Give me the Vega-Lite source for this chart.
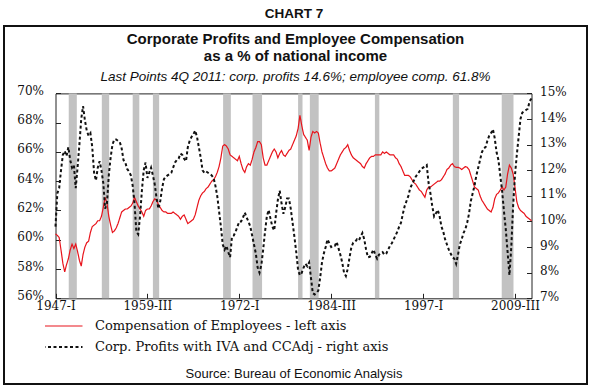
{
  "$schema": "https://vega.github.io/schema/vega-lite/v6.json",
  "width": 583,
  "height": 358,
  "autosize": {"type": "none"},
  "padding": {"left": 4, "top": 26, "right": 5, "bottom": 3},
  "background": "white",
  "config": {
    "view": {"stroke": "#111111", "strokeWidth": 2},
    "axis": {"domainColor": "#222222", "domainWidth": 1, "tickColor": "#222222", "grid": false, "labelFont": "DejaVu Serif", "labelFontSize": 12, "labelColor": "#111111", "titleFont": "Liberation Sans", "titleColor": "#111111"}
  },
  "title": {
    "text": ["Corporate Profits and Employee Compensation", "as a % of national income"],
    "subtitle": "Last Points 4Q 2011: corp. profits 14.6%; employee comp. 61.8%",
    "font": "Liberation Sans", "fontSize": 15, "fontWeight": "bold", "lineHeight": 16.5, "color": "#111111",
    "subtitleFont": "Liberation Sans", "subtitleFontSize": 13.5, "subtitleFontStyle": "italic", "subtitleColor": "#111111", "subtitlePadding": 6.5,
    "anchor": "middle", "frame": "group", "offset": -77.5
  },
  "datasets": {
    "recessions": [
      {"start": 1948.8, "end": 1949.9},
      {"start": 1953.3, "end": 1954.3},
      {"start": 1957.5, "end": 1958.4},
      {"start": 1960.25, "end": 1961.1},
      {"start": 1969.8, "end": 1970.85},
      {"start": 1973.8, "end": 1975.1},
      {"start": 1980.0, "end": 1980.6},
      {"start": 1981.6, "end": 1982.8},
      {"start": 1990.45, "end": 1991.05},
      {"start": 2001.05, "end": 2001.9},
      {"start": 2007.7, "end": 2009.3}
    ],
    "series": [
      {"t": 1947, "c": 60.4, "p": 9.8}, {"t": 1947.25, "c": 60.3, "p": 11.1}, {"t": 1947.5, "c": 60.15, "p": 11.3}, {"t": 1947.75, "c": 59.3, "p": 12.0},
      {"t": 1948, "c": 58.4, "p": 12.6}, {"t": 1948.25, "c": 57.8, "p": 12.75}, {"t": 1948.5, "c": 58.3, "p": 12.55}, {"t": 1948.75, "c": 58.7, "p": 12.9},
      {"t": 1949, "c": 59.3, "p": 12.4}, {"t": 1949.25, "c": 59.7, "p": 12.1}, {"t": 1949.5, "c": 59.4, "p": 12.2}, {"t": 1949.75, "c": 59.7, "p": 11.3},
      {"t": 1950, "c": 59.2, "p": 12.1}, {"t": 1950.25, "c": 58.6, "p": 13.0}, {"t": 1950.5, "c": 58.2, "p": 14.0}, {"t": 1950.75, "c": 59.0, "p": 14.5},
      {"t": 1951, "c": 59.5, "p": 13.95}, {"t": 1951.25, "c": 59.8, "p": 13.55}, {"t": 1951.5, "c": 59.9, "p": 13.35}, {"t": 1951.75, "c": 60.5, "p": 13.45},
      {"t": 1952, "c": 60.9, "p": 12.9}, {"t": 1952.25, "c": 61.0, "p": 11.9}, {"t": 1952.5, "c": 61.1, "p": 11.6}, {"t": 1952.75, "c": 61.3, "p": 12.1},
      {"t": 1953, "c": 61.3, "p": 12.35}, {"t": 1953.25, "c": 61.6, "p": 12.0}, {"t": 1953.5, "c": 62.2, "p": 11.5}, {"t": 1953.75, "c": 62.9, "p": 10.5},
      {"t": 1954, "c": 62.5, "p": 10.7}, {"t": 1954.25, "c": 61.6, "p": 11.8}, {"t": 1954.5, "c": 61.0, "p": 12.5}, {"t": 1954.75, "c": 60.5, "p": 13.0},
      {"t": 1955, "c": 60.6, "p": 13.2}, {"t": 1955.25, "c": 60.8, "p": 13.2}, {"t": 1955.5, "c": 61.1, "p": 13.15}, {"t": 1955.75, "c": 61.5, "p": 13.1},
      {"t": 1956, "c": 61.9, "p": 12.85}, {"t": 1956.25, "c": 62.0, "p": 12.4}, {"t": 1956.5, "c": 62.1, "p": 12.3}, {"t": 1956.75, "c": 62.1, "p": 12.05},
      {"t": 1957, "c": 62.2, "p": 11.95}, {"t": 1957.25, "c": 62.3, "p": 11.8}, {"t": 1957.5, "c": 62.5, "p": 11.4}, {"t": 1957.75, "c": 62.9, "p": 10.7},
      {"t": 1958, "c": 62.6, "p": 9.6}, {"t": 1958.25, "c": 62.3, "p": 9.5}, {"t": 1958.5, "c": 62.1, "p": 10.2}, {"t": 1958.75, "c": 61.9, "p": 11.2},
      {"t": 1959, "c": 61.6, "p": 12.0}, {"t": 1959.25, "c": 62.0, "p": 12.3}, {"t": 1959.5, "c": 62.1, "p": 11.7}, {"t": 1959.75, "c": 62.1, "p": 11.9},
      {"t": 1960, "c": 62.3, "p": 12.1}, {"t": 1960.25, "c": 62.6, "p": 11.8}, {"t": 1960.5, "c": 62.8, "p": 11.45}, {"t": 1960.75, "c": 62.7, "p": 10.9},
      {"t": 1961, "c": 62.4, "p": 10.5}, {"t": 1961.25, "c": 62.2, "p": 10.8}, {"t": 1961.5, "c": 62.0, "p": 11.3}, {"t": 1961.75, "c": 61.9, "p": 11.65},
      {"t": 1962, "c": 61.9, "p": 11.75}, {"t": 1962.25, "c": 61.8, "p": 11.8}, {"t": 1962.5, "c": 61.8, "p": 11.85}, {"t": 1962.75, "c": 61.8, "p": 11.9},
      {"t": 1963, "c": 61.9, "p": 12.1}, {"t": 1963.25, "c": 61.8, "p": 12.3}, {"t": 1963.5, "c": 61.7, "p": 12.4}, {"t": 1963.75, "c": 61.6, "p": 12.45},
      {"t": 1964, "c": 61.4, "p": 12.65}, {"t": 1964.25, "c": 61.6, "p": 12.6}, {"t": 1964.5, "c": 61.7, "p": 12.45}, {"t": 1964.75, "c": 61.4, "p": 12.35},
      {"t": 1965, "c": 61.1, "p": 12.9}, {"t": 1965.25, "c": 61.2, "p": 13.15}, {"t": 1965.5, "c": 61.3, "p": 13.3}, {"t": 1965.75, "c": 61.4, "p": 13.4},
      {"t": 1966, "c": 61.7, "p": 13.55}, {"t": 1966.25, "c": 62.2, "p": 13.3}, {"t": 1966.5, "c": 62.7, "p": 12.9}, {"t": 1966.75, "c": 63.0, "p": 12.5},
      {"t": 1967, "c": 63.2, "p": 12.0}, {"t": 1967.25, "c": 63.3, "p": 11.9}, {"t": 1967.5, "c": 63.5, "p": 11.95}, {"t": 1967.75, "c": 63.6, "p": 11.9},
      {"t": 1968, "c": 63.8, "p": 11.85}, {"t": 1968.25, "c": 64.0, "p": 11.8}, {"t": 1968.5, "c": 64.1, "p": 11.7}, {"t": 1968.75, "c": 64.3, "p": 11.4},
      {"t": 1969, "c": 64.6, "p": 11.0}, {"t": 1969.25, "c": 65.0, "p": 10.4}, {"t": 1969.5, "c": 65.6, "p": 9.8}, {"t": 1969.75, "c": 66.4, "p": 9.1},
      {"t": 1970, "c": 66.5, "p": 8.9}, {"t": 1970.25, "c": 66.4, "p": 9.05}, {"t": 1970.5, "c": 66.2, "p": 8.8}, {"t": 1970.75, "c": 65.8, "p": 8.6},
      {"t": 1971, "c": 65.7, "p": 9.4}, {"t": 1971.25, "c": 65.6, "p": 9.45}, {"t": 1971.5, "c": 65.5, "p": 9.6}, {"t": 1971.75, "c": 65.4, "p": 9.8},
      {"t": 1972, "c": 65.7, "p": 10.0}, {"t": 1972.25, "c": 65.2, "p": 10.0}, {"t": 1972.5, "c": 64.8, "p": 10.15}, {"t": 1972.75, "c": 64.6, "p": 10.35},
      {"t": 1973, "c": 65.0, "p": 10.15}, {"t": 1973.25, "c": 65.2, "p": 10.0}, {"t": 1973.5, "c": 65.1, "p": 9.8}, {"t": 1973.75, "c": 65.5, "p": 9.45},
      {"t": 1974, "c": 66.0, "p": 9.1}, {"t": 1974.25, "c": 66.3, "p": 8.75}, {"t": 1974.5, "c": 66.7, "p": 8.2}, {"t": 1974.75, "c": 66.7, "p": 8.0},
      {"t": 1975, "c": 66.5, "p": 8.3}, {"t": 1975.25, "c": 65.6, "p": 8.9}, {"t": 1975.5, "c": 65.1, "p": 9.6}, {"t": 1975.75, "c": 65.1, "p": 10.2},
      {"t": 1976, "c": 65.4, "p": 10.45}, {"t": 1976.25, "c": 65.7, "p": 10.1}, {"t": 1976.5, "c": 66.0, "p": 9.8}, {"t": 1976.75, "c": 66.2, "p": 9.65},
      {"t": 1977, "c": 66.0, "p": 10.3}, {"t": 1977.25, "c": 65.6, "p": 10.85}, {"t": 1977.5, "c": 65.9, "p": 11.2}, {"t": 1977.75, "c": 66.1, "p": 10.7},
      {"t": 1978, "c": 65.8, "p": 10.3}, {"t": 1978.25, "c": 65.7, "p": 10.55}, {"t": 1978.5, "c": 65.9, "p": 10.9}, {"t": 1978.75, "c": 66.1, "p": 10.9},
      {"t": 1979, "c": 66.2, "p": 10.5}, {"t": 1979.25, "c": 66.5, "p": 9.95}, {"t": 1979.5, "c": 66.8, "p": 9.4}, {"t": 1979.75, "c": 67.1, "p": 8.8},
      {"t": 1980, "c": 67.6, "p": 8.1}, {"t": 1980.25, "c": 68.5, "p": 7.9}, {"t": 1980.5, "c": 67.8, "p": 8.0}, {"t": 1980.75, "c": 67.2, "p": 8.2},
      {"t": 1981, "c": 67.0, "p": 8.35}, {"t": 1981.25, "c": 66.8, "p": 8.25}, {"t": 1981.5, "c": 66.1, "p": 8.4}, {"t": 1981.75, "c": 67.0, "p": 7.8},
      {"t": 1982, "c": 67.4, "p": 7.2}, {"t": 1982.25, "c": 67.3, "p": 7.15}, {"t": 1982.5, "c": 67.4, "p": 7.2}, {"t": 1982.75, "c": 67.3, "p": 7.3},
      {"t": 1983, "c": 66.6, "p": 7.8}, {"t": 1983.25, "c": 66.0, "p": 8.4}, {"t": 1983.5, "c": 65.6, "p": 8.75}, {"t": 1983.75, "c": 65.2, "p": 9.0},
      {"t": 1984, "c": 64.9, "p": 9.3}, {"t": 1984.25, "c": 64.7, "p": 9.15}, {"t": 1984.5, "c": 64.7, "p": 9.0}, {"t": 1984.75, "c": 64.8, "p": 9.05},
      {"t": 1985, "c": 64.9, "p": 9.05}, {"t": 1985.25, "c": 65.2, "p": 9.2}, {"t": 1985.5, "c": 65.5, "p": 8.95}, {"t": 1985.75, "c": 65.8, "p": 8.7},
      {"t": 1986, "c": 66.0, "p": 8.4}, {"t": 1986.25, "c": 66.2, "p": 8.0}, {"t": 1986.5, "c": 66.3, "p": 7.87}, {"t": 1986.75, "c": 66.5, "p": 8.15},
      {"t": 1987, "c": 66.1, "p": 8.6}, {"t": 1987.25, "c": 65.8, "p": 9.0}, {"t": 1987.5, "c": 65.6, "p": 9.17}, {"t": 1987.75, "c": 65.5, "p": 9.2},
      {"t": 1988, "c": 65.4, "p": 9.3}, {"t": 1988.25, "c": 65.3, "p": 9.25}, {"t": 1988.5, "c": 65.2, "p": 9.4}, {"t": 1988.75, "c": 65.0, "p": 9.55},
      {"t": 1989, "c": 64.9, "p": 9.3}, {"t": 1989.25, "c": 65.2, "p": 8.9}, {"t": 1989.5, "c": 65.4, "p": 8.6}, {"t": 1989.75, "c": 65.6, "p": 8.62},
      {"t": 1990, "c": 65.7, "p": 8.75}, {"t": 1990.25, "c": 65.7, "p": 8.9}, {"t": 1990.5, "c": 65.8, "p": 8.7}, {"t": 1990.75, "c": 65.8, "p": 8.55},
      {"t": 1991, "c": 65.8, "p": 8.7}, {"t": 1991.25, "c": 65.8, "p": 8.75}, {"t": 1991.5, "c": 66.0, "p": 8.8}, {"t": 1991.75, "c": 65.9, "p": 8.7},
      {"t": 1992, "c": 66.0, "p": 8.75}, {"t": 1992.25, "c": 65.9, "p": 8.9}, {"t": 1992.5, "c": 65.8, "p": 9.05}, {"t": 1992.75, "c": 65.8, "p": 9.15},
      {"t": 1993, "c": 65.8, "p": 9.3}, {"t": 1993.25, "c": 65.6, "p": 9.45}, {"t": 1993.5, "c": 65.5, "p": 9.6}, {"t": 1993.75, "c": 65.2, "p": 9.8},
      {"t": 1994, "c": 65.0, "p": 9.95}, {"t": 1994.25, "c": 64.7, "p": 10.3}, {"t": 1994.5, "c": 64.4, "p": 10.6}, {"t": 1994.75, "c": 64.4, "p": 10.8},
      {"t": 1995, "c": 64.4, "p": 11.0}, {"t": 1995.25, "c": 64.3, "p": 11.3}, {"t": 1995.5, "c": 64.1, "p": 11.45}, {"t": 1995.75, "c": 63.9, "p": 11.6},
      {"t": 1996, "c": 63.8, "p": 11.75}, {"t": 1996.25, "c": 63.6, "p": 11.85}, {"t": 1996.5, "c": 63.4, "p": 11.95}, {"t": 1996.75, "c": 63.3, "p": 12.05},
      {"t": 1997, "c": 63.1, "p": 12.1}, {"t": 1997.25, "c": 62.9, "p": 12.15}, {"t": 1997.5, "c": 63.4, "p": 12.2}, {"t": 1997.75, "c": 63.6, "p": 11.5},
      {"t": 1998, "c": 63.6, "p": 11.1}, {"t": 1998.25, "c": 63.7, "p": 10.6}, {"t": 1998.5, "c": 63.8, "p": 10.2}, {"t": 1998.75, "c": 63.9, "p": 10.32},
      {"t": 1999, "c": 64.0, "p": 10.45}, {"t": 1999.25, "c": 64.0, "p": 10.2}, {"t": 1999.5, "c": 64.1, "p": 9.8}, {"t": 1999.75, "c": 64.3, "p": 9.6},
      {"t": 2000, "c": 64.5, "p": 9.3}, {"t": 2000.25, "c": 64.8, "p": 9.1}, {"t": 2000.5, "c": 64.9, "p": 8.9}, {"t": 2000.75, "c": 65.1, "p": 8.75},
      {"t": 2001, "c": 65.2, "p": 8.6}, {"t": 2001.25, "c": 65.0, "p": 8.55}, {"t": 2001.5, "c": 64.95, "p": 8.35}, {"t": 2001.75, "c": 64.95, "p": 8.7},
      {"t": 2002, "c": 64.9, "p": 9.1}, {"t": 2002.25, "c": 64.8, "p": 9.3}, {"t": 2002.5, "c": 64.9, "p": 9.55}, {"t": 2002.75, "c": 65.0, "p": 9.7},
      {"t": 2003, "c": 64.95, "p": 9.95}, {"t": 2003.25, "c": 64.8, "p": 10.3}, {"t": 2003.5, "c": 64.4, "p": 10.8}, {"t": 2003.75, "c": 64.0, "p": 11.1},
      {"t": 2004, "c": 63.6, "p": 11.4}, {"t": 2004.25, "c": 63.5, "p": 11.8}, {"t": 2004.5, "c": 63.4, "p": 12.1}, {"t": 2004.75, "c": 63.0, "p": 12.4},
      {"t": 2005, "c": 62.7, "p": 12.7}, {"t": 2005.25, "c": 62.5, "p": 12.85}, {"t": 2005.5, "c": 62.3, "p": 12.9}, {"t": 2005.75, "c": 62.1, "p": 13.15},
      {"t": 2006, "c": 62.0, "p": 13.35}, {"t": 2006.25, "c": 61.9, "p": 13.45}, {"t": 2006.5, "c": 62.2, "p": 13.6}, {"t": 2006.75, "c": 62.8, "p": 13.25},
      {"t": 2007, "c": 63.1, "p": 12.7}, {"t": 2007.25, "c": 63.2, "p": 12.4}, {"t": 2007.5, "c": 63.4, "p": 11.8}, {"t": 2007.75, "c": 63.6, "p": 11.2},
      {"t": 2008, "c": 63.4, "p": 10.4}, {"t": 2008.25, "c": 63.6, "p": 9.7}, {"t": 2008.5, "c": 64.5, "p": 8.8}, {"t": 2008.75, "c": 65.1, "p": 7.9},
      {"t": 2009, "c": 64.9, "p": 9.0}, {"t": 2009.25, "c": 64.5, "p": 10.6}, {"t": 2009.5, "c": 63.6, "p": 11.8}, {"t": 2009.75, "c": 62.6, "p": 12.6},
      {"t": 2010, "c": 62.2, "p": 13.3}, {"t": 2010.25, "c": 62.0, "p": 14.0}, {"t": 2010.5, "c": 61.9, "p": 14.25}, {"t": 2010.75, "c": 61.8, "p": 14.3},
      {"t": 2011, "c": 61.6, "p": 14.35}, {"t": 2011.25, "c": 61.5, "p": 14.4}, {"t": 2011.5, "c": 61.4, "p": 14.7}, {"t": 2011.75, "c": 61.3, "p": 14.8}
    ]
  },
  "layer": [
    {
      "data": {"name": "recessions"},
      "mark": {"type": "rect", "color": "#c2c2c2"},
      "encoding": {
        "x": {"field": "start", "type": "quantitative", "scale": {"domain": [1947, 2011.75], "range": [51.5, 527.5], "zero": false, "nice": false},
          "axis": {"orient": "top", "title": "CHART 7", "labels": false, "ticks": false, "domain": true, "offset": -67.4, "titlePadding": 73, "titleFontSize": 13.5, "titleFontWeight": "bold"}},
        "x2": {"field": "end"},
        "y": {"datum": 56, "type": "quantitative", "scale": {"domain": [56, 70], "range": [272.3, 67.4], "zero": false, "nice": false}, "axis": null},
        "y2": {"datum": 70}
      }
    },
    {
      "data": {"name": "series"},
      "mark": {"type": "line", "strokeWidth": 1.2},
      "encoding": {
        "x": {"field": "t", "type": "quantitative", "scale": {"domain": [1947, 2011.75], "range": [51.5, 527.5], "zero": false, "nice": false},
          "axis": {"orient": "bottom", "values": [1947, 1959.5, 1972, 1984.5, 1997, 2009.5],
            "labelExpr": "floor(datum.value) + '-' + ['I','II','III','IV'][round((datum.value - floor(datum.value)) * 4)]",
            "tickSize": -5, "labelPadding": 7, "offset": -85.7, "labelFlush": false, "labelOverlap": false,
            "title": "Source: Bureau of Economic Analysis", "titleFontSize": 13, "titleFontWeight": "normal", "titlePadding": 56}},
        "y": {"field": "c", "type": "quantitative", "scale": {"domain": [56, 70], "range": [272.3, 67.4], "zero": false, "nice": false},
          "axis": {"orient": "left", "values": [56, 58, 60, 62, 64, 66, 68, 70], "labelExpr": "datum.value + '%'", "tickSize": -5, "labelPadding": 17, "labelOffset": -3, "offset": -51.5, "title": null}},
        "color": {"datum": "Compensation of Employees - left axis", "type": "nominal",
          "scale": {"domain": ["Compensation of Employees - left axis", "Corp. Profits with IVA and CCAdj - right axis"], "range": ["#e8141c", "#111111"]},
          "legend": {"orient": "none", "legendX": 41, "legendY": 293, "title": null, "symbolType": "stroke", "symbolSize": 3844, "clipHeight": 14, "rowPadding": 7, "labelFont": "DejaVu Serif", "labelFontSize": 13, "labelOffset": 37, "labelLimit": 500, "labelColor": "#111111", "padding": 0, "symbolStrokeWidth": 1.5,
            "encode": {"symbols": {"update": {"strokeWidth": {"signal": "datum.index === 0 ? 1.2 : 2"}}}}}},
        "strokeDash": {"datum": "Compensation of Employees - left axis", "type": "nominal",
          "scale": {"domain": ["Compensation of Employees - left axis", "Corp. Profits with IVA and CCAdj - right axis"], "range": [[1, 0], [3, 2.5]]}}
      }
    },
    {
      "data": {"name": "series"},
      "mark": {"type": "line", "strokeWidth": 2},
      "encoding": {
        "x": {"field": "t", "type": "quantitative", "scale": {"domain": [1947, 2011.75], "range": [51.5, 527.5], "zero": false, "nice": false}, "axis": null},
        "y": {"field": "p", "type": "quantitative", "scale": {"domain": [7, 15], "range": [272.3, 67.4], "zero": false, "nice": false},
          "axis": {"orient": "right", "values": [7, 8, 9, 10, 11, 12, 13, 14, 15], "labelExpr": "datum.value + '%'", "tickSize": -5, "labelPadding": 13, "labelOffset": -2, "offset": -55.5, "title": null}},
        "color": {"datum": "Corp. Profits with IVA and CCAdj - right axis", "type": "nominal"},
        "strokeDash": {"datum": "Corp. Profits with IVA and CCAdj - right axis", "type": "nominal"}
      }
    }
  ],
  "resolve": {"scale": {"y": "independent"}}
}
